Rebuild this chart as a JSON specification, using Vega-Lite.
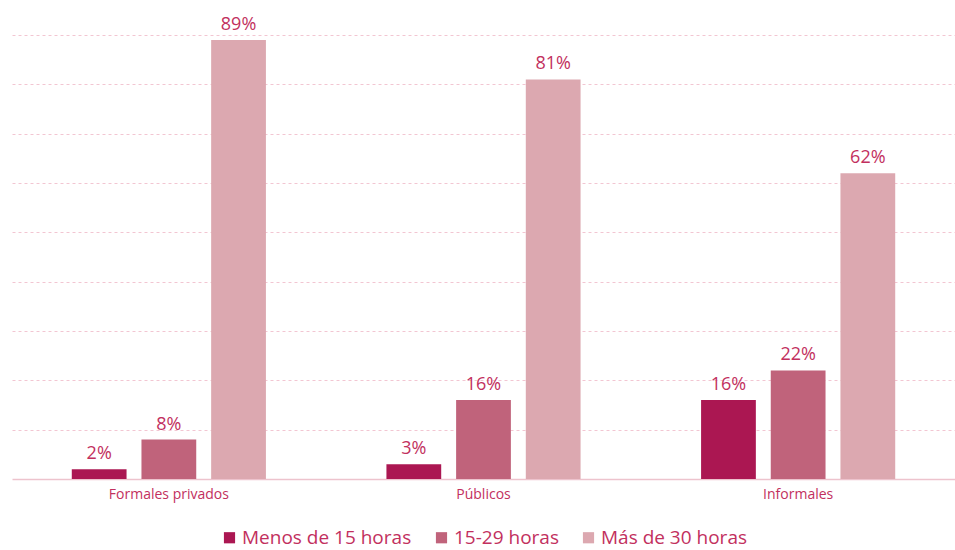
{
  "$schema": "https://vega.github.io/schema/vega-lite/v6.json",
  "autosize": {"type": "none"},
  "padding": {"left": 12, "top": 35, "right": 0, "bottom": 71},
  "width": 943,
  "height": 444,
  "background": "white",
  "data": {"values": [
    {"cat": "Formales privados", "serie": "Menos de 15 horas", "value": 0.02},
    {"cat": "Formales privados", "serie": "15-29 horas", "value": 0.08},
    {"cat": "Formales privados", "serie": "Más de 30 horas", "value": 0.89},
    {"cat": "Públicos", "serie": "Menos de 15 horas", "value": 0.03},
    {"cat": "Públicos", "serie": "15-29 horas", "value": 0.16},
    {"cat": "Públicos", "serie": "Más de 30 horas", "value": 0.81},
    {"cat": "Informales", "serie": "Menos de 15 horas", "value": 0.16},
    {"cat": "Informales", "serie": "15-29 horas", "value": 0.22},
    {"cat": "Informales", "serie": "Más de 30 horas", "value": 0.62}
  ]},
  "encoding": {
    "x": {"field": "cat", "type": "nominal", "sort": ["Formales privados", "Públicos", "Informales"],
      "scale": {"paddingInner": 0.383, "paddingOuter": 0.19},
      "axis": {"title": null, "labelAngle": 0, "ticks": false, "domainColor": "#edc3cd", "domainWidth": 1.5,
        "labelColor": "#c2305e", "labelFont": "Open Sans", "labelFontSize": 14, "labelPadding": 8}},
    "xOffset": {"field": "serie", "type": "nominal", "sort": ["Menos de 15 horas", "15-29 horas", "Más de 30 horas"],
      "scale": {"paddingInner": 0.214, "paddingOuter": 0}},
    "y": {"field": "value", "type": "quantitative", "scale": {"domain": [0, 0.9], "nice": false},
      "axis": {"title": null, "labels": false, "ticks": false, "domain": false, "values": [0.1,0.2,0.3,0.4,0.5,0.6,0.7,0.8,0.9],
        "gridColor": "#f2c6d2", "gridDash": [3, 3], "gridWidth": 1}}
  },
  "layer": [
    {"mark": {"type": "bar"},
      "encoding": {"color": {"field": "serie", "type": "nominal", "sort": ["Menos de 15 horas", "15-29 horas", "Más de 30 horas"],
        "scale": {"range": ["#ab1752", "#c0637b", "#dca8b0"]},
        "legend": {"title": null, "orient": "none", "legendX": 208, "legendY": 493, "direction": "horizontal", "symbolType": "square", "symbolSize": 125,
          "symbolStrokeWidth": 0, "labelFont": "Open Sans", "labelFontSize": 19, "labelColor": "#c2305e", "columnPadding": 20,
          "labelLimit": 400, "labelOffset": 3}}}},
    {"mark": {"type": "text", "baseline": "bottom", "dy": -6, "font": "Open Sans", "fontSize": 18, "color": "#c2305e"},
      "encoding": {"text": {"field": "value", "type": "quantitative", "format": ".0%"}}}
  ],
  "config": {"view": {"stroke": null}}
}
